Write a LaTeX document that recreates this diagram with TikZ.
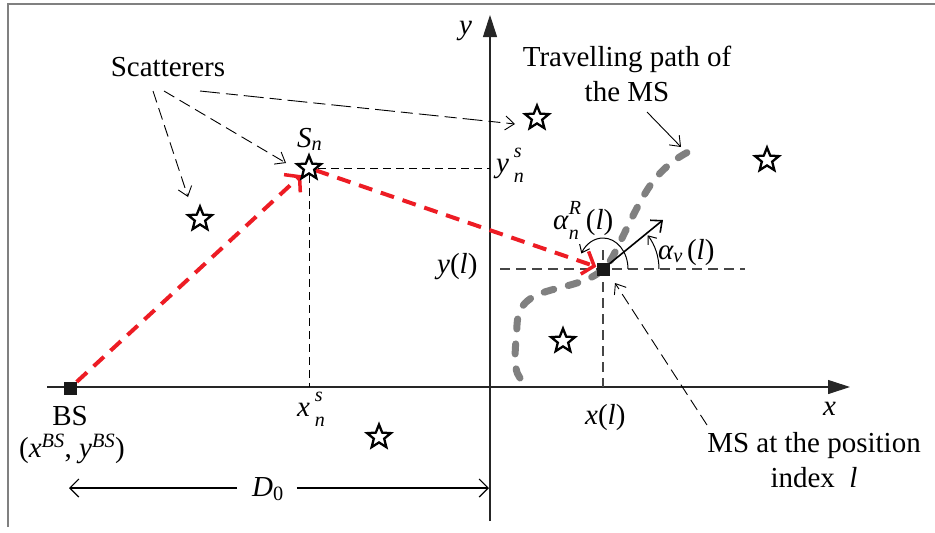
\documentclass[tikz,border=0pt]{standalone}
\usepackage{amsmath}
\usepackage{fontspec}
\setmainfont{Liberation Serif}
\usetikzlibrary{arrows.meta,shapes.geometric,backgrounds}
\definecolor{myred}{RGB}{237,28,36}
\definecolor{pathgray}{RGB}{128,128,128}
\definecolor{dgray}{RGB}{70,70,70}
\newcommand\scrfont{\fontsize{20}{20}\selectfont}
\newcommand\supsub[3]{#1\setbox0\hbox{\scrfont #2}\setbox2\hbox{\scrfont #3}%
  \rlap{\raisebox{0.5em}{\copy0}}\raisebox{-0.35em}{\copy2}%
  \ifdim\wd0>\wd2 \kern\dimexpr\wd0-\wd2\relax\fi}
\begin{document}
\begin{tikzpicture}[x=1pt,y=-1pt,
  every node/.style={font=\fontsize{29}{35}\selectfont, inner sep=0pt},
  scat/.style={star, star points=5, star point ratio=2.3, minimum size=25pt,
     draw=black, fill=white, line width=2.3pt, inner sep=0pt},
  sq/.style={fill=black!90, minimum size=13pt, inner sep=0pt},
  axis/.style={line width=1.1pt, black!85},
  raydash/.style={myred, line width=4pt, dash pattern=on 14pt off 9pt,
     -{Straight Barb[length=10pt,width=24pt,line width=3.5pt]}},
  thindash/.style={black, line width=0.9pt, dash pattern=on 8pt off 5pt},
  posdash/.style={dgray, line width=1.8pt, dash pattern=on 10pt off 6pt},
  ptr/.style={black, line width=0.9pt, -{Straight Barb[length=9pt,width=14pt,line width=0.9pt]}},
  ptrdash/.style={ptr, dash pattern=on 12pt off 6pt},
  ptrdashdot/.style={ptr, dash pattern=on 20pt off 6pt on 12pt off 6pt},
  msarrow/.style={black, line width=1.6pt, -{Straight Barb[length=9pt,width=16pt,line width=1.6pt]}},
  anglearrow/.style={black, line width=1pt, -{Straight Barb[length=7pt,width=11pt,line width=1pt]}},
  travel/.style={pathgray, line width=7pt, line cap=round, dash pattern=on 10pt off 15pt}
]
\useasboundingbox (0,0) rectangle (935,533);

% frame (partial)
\draw[gray, line width=1.4pt] (8,527) -- (8,4) -- (935,4);

% axis endpoints
\coordinate (xaxL) at (47,387);
\coordinate (xaxR) at (850,387);
\coordinate (yaxB) at (490,521);
\coordinate (yaxT) at (490,15);

% scatterers
\node[scat] (s1) at (200,219) {};
\node[scat] (Sn) at (309,168) {};
\node[scat] (s3) at (537,118) {};
\node[scat] (s4) at (767,160) {};
\node[scat] (s5) at (563,341) {};
\node[scat] (s6) at (379,437) {};

% BS and MS
\node[sq] (BS) at (70,388) {};
\node[sq] (MS) at (603,269) {};

% helper coordinates
\coordinate (SnY) at (490,168);
\coordinate (SnX) at (309,387);
\coordinate (MSup) at (603,250);
\coordinate (MSX) at (603,387);
\coordinate (MSYl) at (500,269);
\coordinate (MSYr) at (745,269);
\coordinate (V) at (663,220);
\coordinate (DL) at (69,488);
\coordinate (DR) at (489,488);
\coordinate (sc1) at (153,91);
\coordinate (sc2) at (164,91);
\coordinate (sc3) at (200,91);
\coordinate (tp1) at (647,112);
\coordinate (tp2) at (681,147);
\coordinate (ml1) at (707,425);

\begin{pgfonlayer}{background}
  % axes
  \draw[axis, -{Triangle[length=22pt,width=14pt]}] (xaxL) -- (xaxR);
  \draw[axis, -{Triangle[length=22pt,width=14pt]}] (yaxB) -- (yaxT);
  % projections of S_n
  \draw[thindash] (Sn) -- (SnY);
  \draw[thindash] (Sn) -- (SnX);
  % projections of MS
  \draw[posdash] (MSYl) -- (MSYr);
  \draw[posdash] (MSup) -- (MSX);
  % travelling path
  \draw[travel] (520,378) .. controls (512,368) and (516,345) .. (517,325)
     .. controls (518,302) and (532,295) .. (555,289)
     .. controls (582,282) and (600,278) .. (612,258)
     .. controls (624,236) and (640,197) .. (655,179)
     .. controls (668,163) and (684,153) .. (697,148);
  % rays
  \draw[raydash] (BS) -- (Sn);
  \draw[raydash] (Sn) -- (MS);
\end{pgfonlayer}

% velocity and angles
\draw[msarrow] (MS) -- (V);
\draw[anglearrow] ([xshift=56pt]MS.center) arc[start angle=0, end angle=37, radius=56pt];
\draw[anglearrow] ([xshift=25pt]MS.center) arc[start angle=0, end angle=150, x radius=25pt, y radius=31pt];

% D0 dimension
\node[anchor=base west] (D0) at (252,496) {$\textit{D}_{\text{0}}$};
\draw[black, line width=1.2pt, -{Straight Barb[length=9pt,width=18pt,line width=1.2pt]}] ([xshift=-15pt]D0.west |- DL) -- (DL);
\draw[black, line width=1.2pt, -{Straight Barb[length=9pt,width=18pt,line width=1.2pt]}] ([xshift=13pt]D0.east |- DR) -- (DR);

% pointers
\node[anchor=base] (scatt) at (168,76) {Scatterers};
\draw[ptrdash] (sc1) -- ([shift={(-12pt,22pt)}]s1.center);
\draw[ptrdash] (sc2) -- ([shift={(-23pt,5pt)}]Sn.center);
\draw[ptrdashdot] (sc3) -- ([shift={(-22pt,-6pt)}]s3.center);

\node[anchor=base, align=center] (tpt) at (627,101) {Travelling path of\\the MS};
\draw[ptr] (tp1) -- (tp2);

\node[anchor=base, align=center] (mst) at (814,487) {MS at the position\\index \ \textit{l}};
\draw[ptrdash] (ml1) -- ([shift={(12pt,-14pt)}]MS.center);

% labels
\node[anchor=base west] (ylab) at (459,34) {\textit{y}};
\node[anchor=base west] (xlab) at (823,415) {\textit{x}};
\node[anchor=base west] (Snl) at (297,147) {$\textit{S}_{\textit{n}}$};
\node[anchor=base west] (ynl) at (496,172) {\supsub{\textit{y}\,}{\textit{s}}{\textit{n}}};
\node[anchor=base west] (xnl) at (297,416) {\supsub{\textit{x}\,}{\textit{s}}{\textit{n}}};
\node[anchor=base] (BSl) at (70,425) {BS};
\node[anchor=base] (BSc) at (72,457) {(\textit{x}$^{\textit{BS}}$, \textit{y}$^{\textit{BS}}$)};
\node[anchor=base west] (yl) at (437,273) {\textit{y}(\textit{l})};
\node[anchor=base west] (xl) at (585,424) {\textit{x}(\textit{l})};
\node[anchor=base west] (aR) at (553,229) {\supsub{\textit{α}}{\textit{R}}{\textit{n}}\,(\textit{l})};
\node[anchor=base west] (av) at (658,259) {$\textit{α}_{\textit{v}}\,\text{(}\textit{l}\text{)}$};
\end{tikzpicture}
\end{document}
